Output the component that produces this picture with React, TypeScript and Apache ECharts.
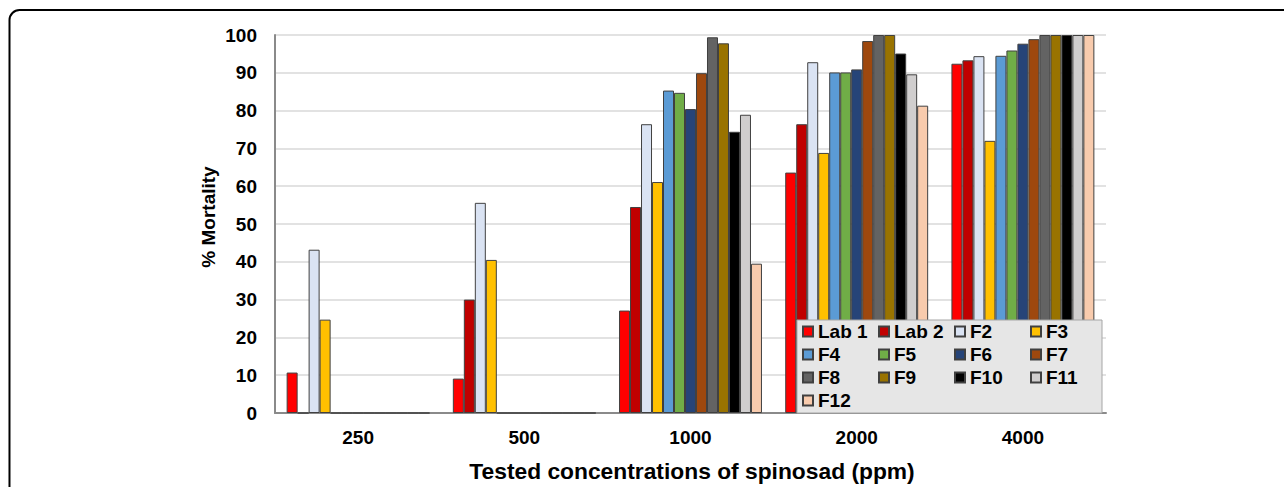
import React, { useEffect, useRef } from "react";
import * as echarts from "echarts";

const categories = ["250", "500", "1000", "2000", "4000"];
const yTicks = [0, 10, 20, 30, 40, 50, 60, 70, 80, 90, 100];

const lab1 = [10.7, 9.1, 27.1, 63.6, 92.4];
const lab2 = [0, 30.0, 54.5, 76.4, 93.3];
const f2 = [43.2, 55.6, 76.4, 92.8, 94.4];
const f3 = [24.7, 40.5, 61.1, 68.8, 72.0];
const f4 = [0, 0, 85.3, 90.1, 94.5];
const f5 = [0, 0, 84.7, 90.1, 95.9];
const f6 = [0, 0, 80.4, 90.9, 97.7];
const f7 = [0, 0, 89.9, 98.4, 98.9];
const f8 = [0, 0, 99.4, 100, 100];
const f9 = [0, 0, 97.8, 100, 100];
const f10 = [0, 0, 74.4, 95.1, 100];
const f11 = [0, 0, 78.9, 89.6, 100];
const f12 = [0, 0, 39.5, 81.3, 100];

const seriesNames = ["Lab 1", "Lab 2", "F2", "F3", "F4", "F5", "F6", "F7", "F8", "F9", "F10", "F11", "F12"];
const seriesData = [lab1, lab2, f2, f3, f4, f5, f6, f7, f8, f9, f10, f11, f12];
const seriesColors = [
  "#FF0000", "#C00000", "#DAE3F3", "#FFC000", "#5B9BD5", "#70AD47", "#264478",
  "#9E480E", "#636363", "#997300", "#000000", "#D0CECE", "#F8CBAD",
];

const FONT = "'Liberation Sans', Arial, sans-serif";

export default function App() {
  const ref = useRef<HTMLDivElement>(null);
  useEffect(() => {
    if (!ref.current) return;
    const chart = echarts.init(ref.current, null, { renderer: "svg" });
    chart.setOption({
      animation: false,
      backgroundColor: "#ffffff",
      textStyle: { fontFamily: FONT },
      grid: { left: 275, right: 178, top: 35, bottom: 74 },
      legend: {
        data: seriesNames,
        left: 797,
        top: 320,
        width: 300,
        orient: "horizontal",
        padding: [2, 0, 3, 5],
        itemGap: 4,
        itemWidth: 10,
        itemHeight: 10,
        icon: "rect",
        backgroundColor: "#e6e6e6",
        borderColor: "#a6a6a6",
        borderWidth: 1,
        textStyle: {
          fontFamily: FONT,
          fontSize: 19,
          fontWeight: "bold",
          color: "#000",
          width: 56,
          lineHeight: 19,
          overflow: "none",
        },
      },
      xAxis: {
        type: "category",
        data: categories,
        axisLine: { show: true, lineStyle: { color: "#8a8a8a", width: 2 } },
        axisTick: { show: false },
        axisLabel: {
          fontFamily: FONT,
          fontSize: 19,
          fontWeight: "bold",
          color: "#000",
          margin: 15,
        },
      },
      yAxis: {
        type: "value",
        min: 0,
        max: 100,
        interval: 10,
        axisLine: { show: true, lineStyle: { color: "#8a8a8a", width: 2 } },
        axisTick: { show: false },
        splitLine: { show: true, lineStyle: { color: "#d9d9d9", width: 1.5 } },
        axisLabel: {
          fontFamily: FONT,
          fontSize: 19,
          fontWeight: "bold",
          color: "#000",
          margin: 18,
          formatter: (v: number) => (yTicks.includes(v) ? String(v) : ""),
        },
      },
      graphic: [
        {
          type: "rect",
          silent: true,
          shape: { x: 9.5, y: 10, width: 1400, height: 600, r: 10 },
          style: { fill: "none", stroke: "#000", lineWidth: 2 },
        },
        {
          type: "text",
          x: 208,
          y: 217,
          rotation: Math.PI / 2,
          style: {
            text: "% Mortality",
            font: `bold 19px ${FONT}`,
            fill: "#000",
            align: "center",
            verticalAlign: "middle",
          },
        },
        {
          type: "text",
          x: 692,
          y: 471,
          style: {
            text: "Tested concentrations of spinosad (ppm)",
            font: `bold 22.8px ${FONT}`,
            fill: "#000",
            align: "center",
            verticalAlign: "middle",
          },
        },
      ],
      series: seriesNames.map((name, i) => ({
        name,
        type: "bar",
        data: seriesData[i],
        barGap: "0%",
        barCategoryGap: "14%",
        itemStyle: {
          color: seriesColors[i],
          borderColor: "#404040",
          borderWidth: 1,
        },
      })),
    });
    return () => chart.dispose();
  }, []);
  return (
    <div
      ref={ref}
      style={{ position: "absolute", left: 0, top: 0, width: 1284, height: 487 }}
    />
  );
}
